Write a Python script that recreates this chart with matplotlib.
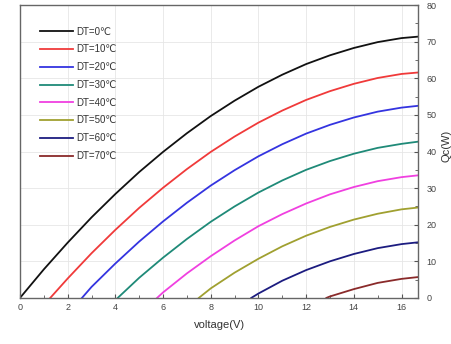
import matplotlib
matplotlib.use("Agg")
from matplotlib import pyplot as plt
from matplotlib.ticker import MultipleLocator

plt.rcParams['font.family'] = ['Liberation Sans', 'DejaVu Sans']

labels = ["DT=0℃", "DT=10℃", "DT=20℃", "DT=30℃", "DT=40℃", "DT=50℃", "DT=60℃", "DT=70℃"]
colors = ["#111111", "#f03a3a", "#3434e0", "#1f8a78", "#f040e0", "#a0a030", "#1c1c80", "#8a2a2a"]

v_0 = [0, 1, 2, 3, 4, 5, 6, 7, 8, 9, 10, 11, 12, 13, 14, 15, 16, 16.7]
q_0 = [0, 7.8, 15.1, 22.0, 28.4, 34.4, 39.9, 45.0, 49.7, 53.9, 57.7, 61.0, 63.9, 66.3, 68.3, 69.9, 71.0, 71.4]

v_10 = [1.27, 2, 3, 4, 5, 6, 7, 8, 9, 10, 11, 12, 13, 14, 15, 16, 16.7]
q_10 = [0, 5.3, 12.2, 18.6, 24.6, 30.1, 35.2, 39.9, 44.1, 47.9, 51.2, 54.1, 56.5, 58.5, 60.1, 61.2, 61.6]

v_20 = [2.6, 3, 4, 5, 6, 7, 8, 9, 10, 11, 12, 13, 14, 15, 16, 16.7]
q_20 = [0, 3.0, 9.4, 15.4, 20.9, 26.0, 30.7, 34.9, 38.7, 42.0, 44.9, 47.3, 49.3, 50.9, 52.0, 52.5]

v_30 = [4.1, 5, 6, 7, 8, 9, 10, 11, 12, 13, 14, 15, 16, 16.7]
q_30 = [0, 5.5, 11.0, 16.1, 20.8, 25.0, 28.8, 32.1, 35.0, 37.4, 39.4, 41.0, 42.1, 42.7]

v_40 = [5.75, 6, 7, 8, 9, 10, 11, 12, 13, 14, 15, 16, 16.7]
q_40 = [0, 1.5, 6.7, 11.4, 15.7, 19.6, 22.9, 25.8, 28.3, 30.3, 31.9, 33.0, 33.5]

v_50 = [7.5, 8, 9, 10, 11, 12, 13, 14, 15, 16, 16.7]
q_50 = [0, 2.6, 6.9, 10.7, 14.1, 17.0, 19.4, 21.4, 23.0, 24.2, 24.7]

v_60 = [9.7, 10, 11, 12, 13, 14, 15, 16, 16.7]
q_60 = [0, 1.2, 4.7, 7.6, 10.0, 12.0, 13.6, 14.7, 15.2]

v_70 = [12.85, 13, 14, 15, 16, 16.7]
q_70 = [0, 0.4, 2.4, 4.1, 5.2, 5.7]

vs = [v_0, v_10, v_20, v_30, v_40, v_50, v_60, v_70]
qs = [q_0, q_10, q_20, q_30, q_40, q_50, q_60, q_70]

fig = plt.figure(figsize=(4.51, 3.44), dpi=100)
ax = fig.add_axes([0.0443, 0.134, 0.883, 0.851])

for v, q, c, lab in zip(vs, qs, colors, labels):
    ax.plot(v, q, color=c, lw=1.3, label=lab, solid_joinstyle="round")

ax.set_xlim(0, 16.7)
ax.set_ylim(0, 80)
ax.xaxis.set_major_locator(MultipleLocator(2))
ax.xaxis.set_minor_locator(MultipleLocator(1))
ax.yaxis.set_major_locator(MultipleLocator(10))
ax.yaxis.set_minor_locator(MultipleLocator(5))
ax.yaxis.tick_right()
ax.yaxis.set_label_position("right")
ax.tick_params(which="both", direction="in", colors="#555555", labelcolor="#444444", labelsize=6.5)
ax.tick_params(which="major", length=3)
ax.tick_params(which="minor", length=2)
ax.tick_params(axis="y", pad=6)
ax.grid(True, color="#e6e6e6", lw=0.6)
for s in ax.spines.values():
    s.set_color("#666666")
    s.set_linewidth(1.0)

ax.set_xlabel("voltage(V)", fontsize=8, color="#333333", labelpad=6)
ax.set_ylabel("Qc(W)", fontsize=8, color="#333333", rotation=90)
ax.yaxis.set_label_coords(1.058, 0.52)

ax.legend(loc="upper left", bbox_to_anchor=(0.033, 0.95), frameon=False, fontsize=7,
          handlelength=3.4, handletextpad=0.3, labelspacing=0.8, borderaxespad=0.3,
          labelcolor="#333333")

fig.savefig("out.png", dpi=100)
